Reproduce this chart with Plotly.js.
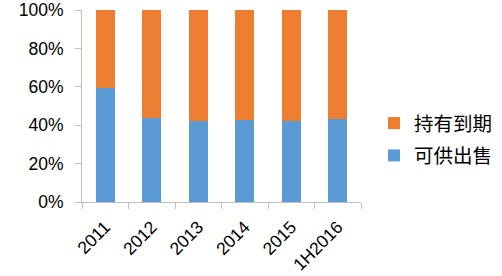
<!DOCTYPE html>
<html>
<head>
<meta charset="utf-8">
<script src="https://cdn.plot.ly/plotly-3.0.1.min.js"></script>
<style>html,body{margin:0;padding:0;background:#fff;}#chart{width:502px;height:276px;}</style>
</head>
<body>
<div id="chart"></div>
<script>
var categories = ["2011", "2012", "2013", "2014", "2015", "1H2016"];
var afsValues = [59.2, 43.6, 42.2, 42.9, 42.2, 43.2];
var htmValues = [40.8, 56.4, 57.8, 57.1, 57.8, 56.8];
var afsName = "可供出售";
var htmName = "持有到期";
var yTickVals = [0, 20, 40, 60, 80, 100];
var yTickText = ["0%", "20%", "40%", "60%", "80%", "100%"];

var traces = [
  {type: "bar", x: categories, y: afsValues, name: afsName, legendgroup: "a", legendrank: 2,
   marker: {color: "#5B9BD5"}, hoverinfo: "skip"},
  {type: "bar", x: categories, y: htmValues, name: htmName, legendgroup: "b", legendrank: 1,
   marker: {color: "#ED7D31"}, hoverinfo: "skip"}
];

var layout = {
  width: 502, height: 276,
  margin: {l: 82, r: 141, t: 10, b: 74},
  barmode: "stack",
  bargap: 0.6,
  paper_bgcolor: "#fff", plot_bgcolor: "#fff",
  font: {family: "Liberation Sans, Arial, sans-serif", size: 17.5, color: "#000"},
  xaxis: {
    type: "category", tickangle: -45,
    showline: true, linecolor: "#BFBFBF", linewidth: 1,
    ticks: "outside", ticklen: 6, tickcolor: "#BFBFBF", tickson: "boundaries",
    ticklabelstandoff: 7,
    showgrid: false, zeroline: false, fixedrange: true
  },
  yaxis: {
    range: [0, 100], tickvals: yTickVals, ticktext: yTickText,
    showline: true, linecolor: "#BFBFBF", linewidth: 1,
    ticks: "outside", ticklen: 6, tickcolor: "#BFBFBF",
    ticklabelstandoff: 8,
    showgrid: false, zeroline: false, fixedrange: true
  },
  showlegend: true,
  legend: {
    traceorder: "grouped", tracegroupgap: 4,
    xref: "container", yref: "container",
    x: 0.745, y: 0.495, xanchor: "left", yanchor: "middle",
    font: {family: "Noto Sans CJK SC, sans-serif", size: 19.5, color: "#000"},
    itemwidth: 30
  }
};

Plotly.newPlot("chart", traces, layout, {displayModeBar: false, staticPlot: true});
</script>
</body>
</html>
